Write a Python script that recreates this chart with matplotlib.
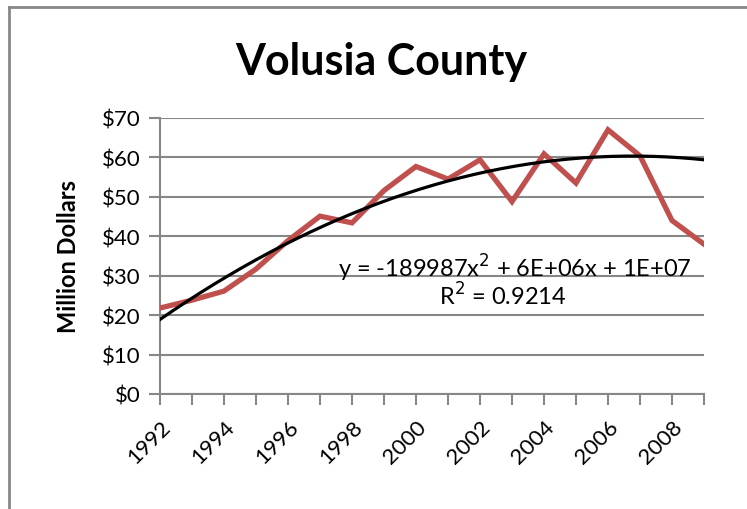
import numpy as np
import matplotlib.pyplot as plt
from matplotlib.lines import Line2D

plt.rcParams['font.family'] = ['Lato', 'DejaVu Sans']

# Volusia County, million dollars
years = [1992, 1993, 1994, 1995, 1996, 1997, 1998, 1999, 2000,
         2001, 2002, 2003, 2004, 2005, 2006, 2007, 2008, 2009]
values = [21.8, 23.8, 26.1, 31.7, 38.9, 45.1, 43.4, 51.6, 57.7,
          54.5, 59.4, 48.8, 60.9, 53.5, 67.0, 60.4, 44.0, 38.0]
tick_years = [1992, 1994, 1996, 1998, 2000, 2002, 2004, 2006, 2008]
y_ticks = [0, 10, 20, 30, 40, 50, 60, 70]
# Excel trendline (x = 1..18), in millions
trend_coef = [-0.189987, 5.992, 13.098]

fig = plt.figure(figsize=(7.47, 5.10), dpi=100)
ax = fig.add_axes([0.2142, 0.2255, 0.7282, 0.5412])

x = np.array(years, dtype=float)
ax.plot(x, values, color='#C0504D', lw=3.8, solid_joinstyle='miter', zorder=3)

xs = np.linspace(1992, 2009, 200)
ax.plot(xs, np.polyval(trend_coef, xs - 1991), color='black', lw=2.3, zorder=4)

ax.set_xlim(1992, 2009)
ax.set_ylim(0, 70)
ax.set_yticks(y_ticks)
ax.set_yticklabels([f'${v}' for v in y_ticks])
ax.set_xticks(years)
ax.set_xticklabels([str(y) if y in tick_years else '' for y in years],
                   rotation=45, ha='right', rotation_mode='anchor')
ax.tick_params(axis='both', colors='#878787', labelcolor='black',
               labelsize=16, length=8, width=1.5)
ax.tick_params(axis='x', pad=8)
ax.tick_params(axis='y', pad=6)
ax.grid(axis='y', color='#878787', lw=1.5)
ax.set_axisbelow(True)
for s in ['top', 'right']:
    ax.spines[s].set_visible(False)
for s in ['left', 'bottom']:
    ax.spines[s].set_color('#878787')
    ax.spines[s].set_linewidth(1.5)

ax.set_ylabel('Million Dollars', fontsize=17, fontweight='bold', labelpad=16)
fig.text(0.51, 0.878, 'Volusia County', fontsize=31, fontweight='bold',
         ha='center', va='center')

ax.text(2003.1, 32.2, 'y = -189987x$^2$ + 6E+06x + 1E+07', fontsize=17,
        ha='center', va='center')
ax.text(2002.7, 25.1, 'R$^2$ = 0.9214', fontsize=17, ha='center', va='center')

# chart border
fig.add_artist(Line2D([9 / 747, 1], [1 - 8 / 510, 1 - 8 / 510],
                      color='#878787', lw=2))
fig.add_artist(Line2D([9 / 747, 9 / 747], [0, 1 - 8 / 510],
                      color='#878787', lw=2))

fig.savefig('out.png', dpi=100)
